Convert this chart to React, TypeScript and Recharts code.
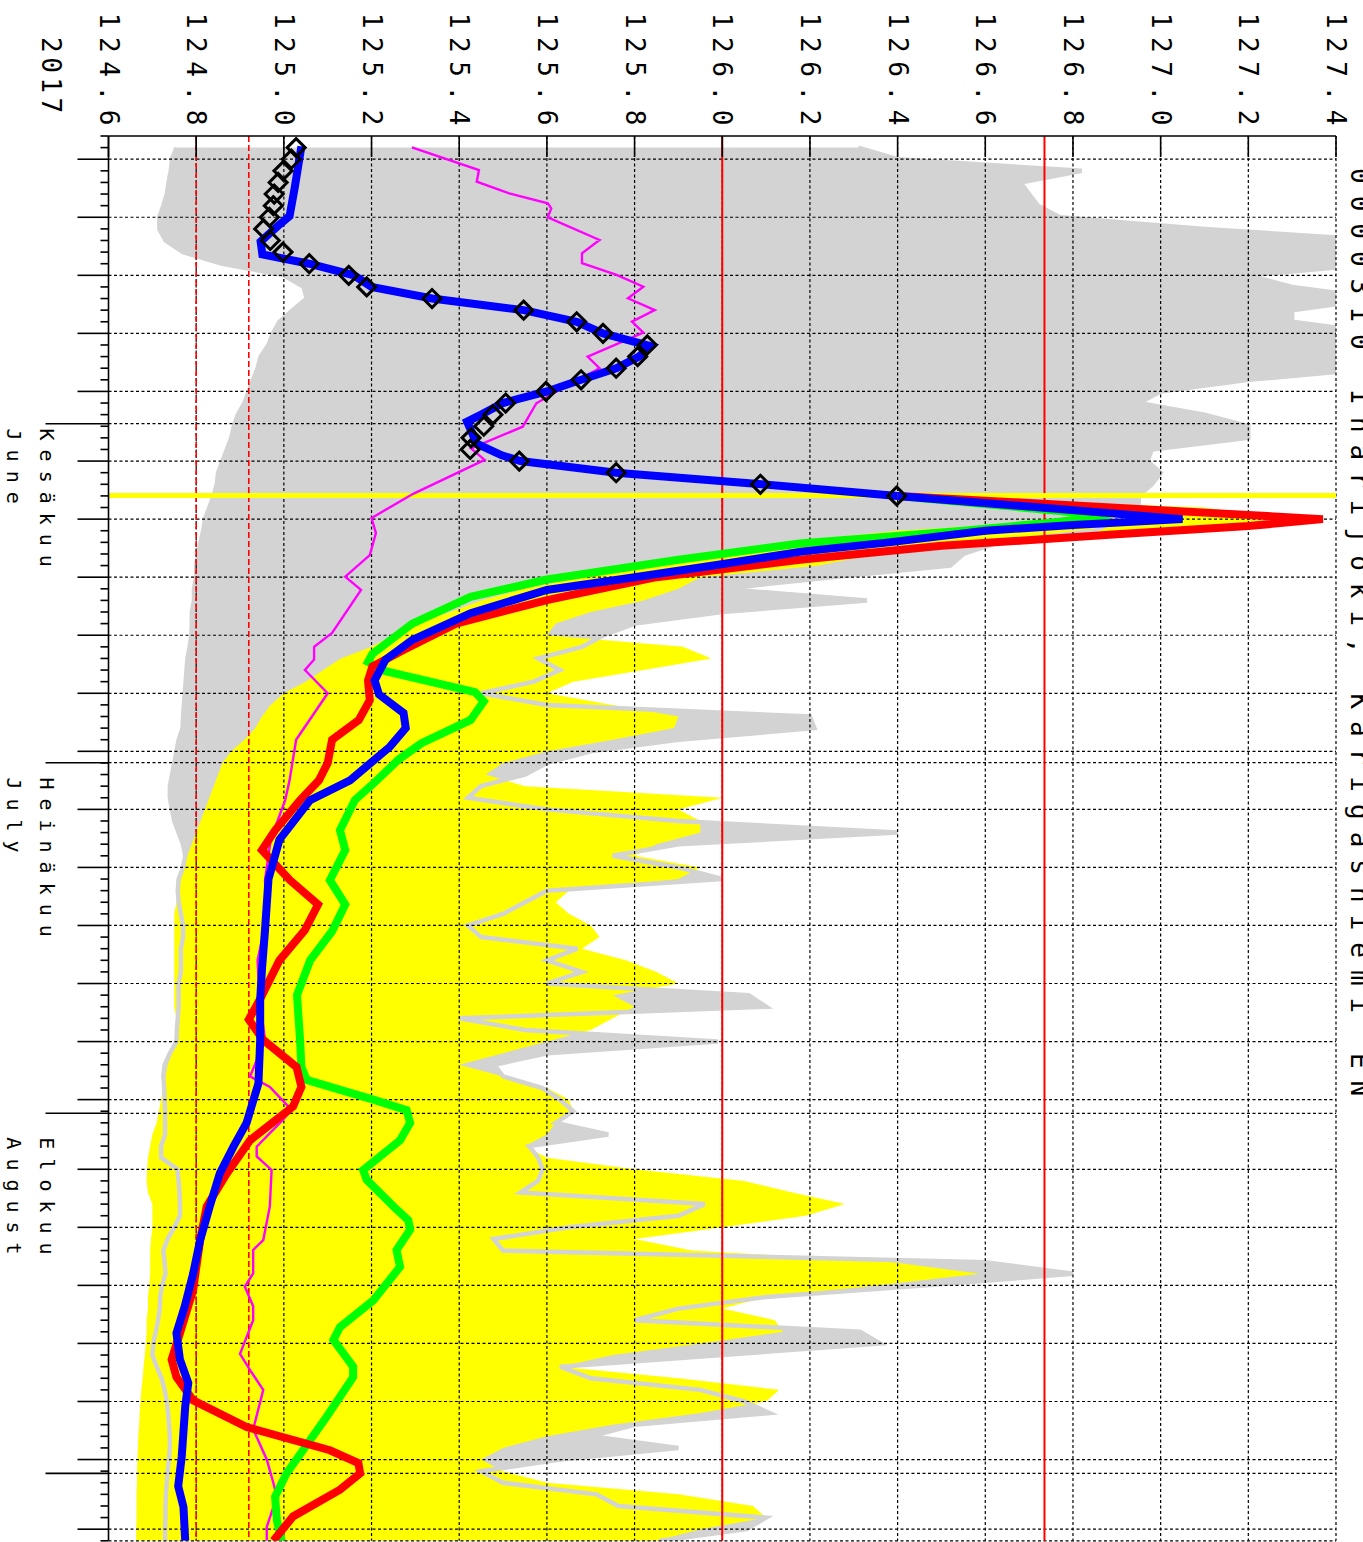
import React from "react";
import { ComposedChart, Area, Line, XAxis, YAxis, ReferenceLine } from "recharts";

// ---------- layout (unrotated chart, later turned 90deg clockwise) ----------
const CHART_W = 1542;
const CHART_H = 1363;
const PLOT_LEFT = 136;
const PLOT_TOP = 27;
const PLOT_BOTTOM = 1254.5;

// ---------- axes (time unit: days since 8 May 2017 00:00) ----------
const DAY_DOMAIN = [0, 121];
const VALUE_DOMAIN = [124.6, 127.4];
const VALUE_TICKS = [124.6, 124.8, 125.0, 125.2, 125.4, 125.6, 125.8, 126.0, 126.2, 126.4, 126.6, 126.8, 127.0, 127.2, 127.4];
const DAY_TICKS = Array.from({ length: 122 }, (_, i) => i);
const FIVE_DAY_TICKS = [2, 7, 12, 17, 22, 28, 33, 38, 43, 48, 53, 58, 63, 68, 73, 78, 83, 89, 94, 99, 104, 109, 114, 120];
const MONTH_TICKS = [24.78, 53.98, 84.18, 115.19];
const MONTH_LABEL_DAYS = [25.2, 55.25, 86.25];
const MONTH_LABELS_FI = ["Kesäkuu", "Heinäkuu", "Elokuu"];
const MONTH_LABELS_EN = ["June", "July", "August"];
const YEAR_LABEL = "2017";
const TITLE = "0000310 Inarijoki, Karigasniemi EN";
const FORECAST_START = 30.97;
const LIMITS_SOLID = [126.0, 126.735];
const LIMITS_DASHED = [124.8, 124.92];

// ---------- observations ----------
const OBS_DAYS = [1, 2, 3, 4, 5, 6, 7, 8, 9, 10, 11, 12, 13, 14, 15, 16, 17, 18, 19, 20, 21, 22, 23, 24, 25, 26, 27, 28, 29, 30, 31];
const OBS_VALUES = [125.028, 125.017, 124.998, 124.987, 124.978, 124.976, 124.967, 124.954, 124.969, 124.998, 125.058, 125.148, 125.189, 125.338, 125.547, 125.668, 125.728, 125.829, 125.807, 125.758, 125.678, 125.598, 125.506, 125.477, 125.456, 125.427, 125.425, 125.537, 125.758, 126.087, 126.398];

const BLUE_OBS_DAYS = [0.9, 4.4, 6.9, 7.8, 9.1, 10.2, 11, 12, 13, 14, 15, 16, 17, 18.1, 19, 20, 21, 22, 23, 24, 24.6, 26.5, 27.5, 28, 29, 30, 31];
const BLUE_OBS_VALUES = [125.04, 125.025, 125.013, 124.985, 124.947, 124.951, 125.058, 125.16, 125.2, 125.338, 125.547, 125.668, 125.728, 125.837, 125.81, 125.758, 125.678, 125.6, 125.5, 125.45, 125.418, 125.44, 125.497, 125.54, 125.758, 126.09, 126.4];

// ---------- forecasts ----------
const BLUE_DAYS = [31, 33, 33.5, 34, 35, 35.8, 37, 38, 39.1, 41.1, 43.4, 45.1, 46.9, 48.1, 49.7, 51.0, 52.6, 55.5, 57.2, 60.6, 64, 68.4, 71.8, 74.4, 77.9, 81.6, 85.0, 87.05, 89.35, 92.2, 95.1, 98.0, 100.8, 103.1, 105.4, 107.4, 109.45, 113.75, 116.3, 118.1, 121];
const BLUE_VALUES = [126.4, 127.05, 126.8, 126.6, 126.38, 126.18, 125.98, 125.8, 125.6, 125.426, 125.293, 125.232, 125.207, 125.217, 125.273, 125.278, 125.242, 125.151, 125.06, 124.99, 124.965, 124.957, 124.95, 124.946, 124.946, 124.942, 124.915, 124.885, 124.854, 124.831, 124.809, 124.793, 124.774, 124.755, 124.763, 124.782, 124.775, 124.767, 124.759, 124.771, 124.775];

const RED_DAYS = [31, 33, 33.6, 34.3, 35.3, 36.5, 38, 39.97, 41.97, 44.27, 45.7, 46.9, 48.6, 50.3, 52.0, 54.0, 55.5, 57.2, 59.8, 61.5, 64.1, 66.2, 68.4, 71.0, 74.4, 76.1, 77.86, 80.2, 81.9, 83.6, 86.5, 89.35, 92.2, 95.1, 99.4, 103.1, 105.4, 106.9, 108.9, 111.2, 113.2, 114.3, 115.2, 116.6, 118.9, 121];
const RED_VALUES = [126.4, 127.37, 127.2, 126.9, 126.5, 126.177, 125.85, 125.6, 125.395, 125.273, 125.202, 125.192, 125.196, 125.171, 125.11, 125.1, 125.08, 125.037, 124.98, 124.95, 125.014, 125.078, 125.048, 124.99, 124.945, 124.92, 124.953, 125.029, 125.04, 125.021, 124.923, 124.87, 124.824, 124.809, 124.793, 124.763, 124.744, 124.755, 124.793, 124.915, 125.105, 125.17, 125.174, 125.128, 125.021, 124.976];

const GREEN_DAYS = [31, 32.7, 33.3, 34, 35.1, 36.5, 38.2, 39.7, 42.0, 44.6, 45.3, 46.1, 47.9, 48.7, 50.3, 52.3, 53.7, 55.5, 57.2, 59.8, 61.5, 64.1, 66.2, 68.5, 71, 74, 77.86, 80.2, 81.3, 83.0, 83.9, 85.0, 86.5, 89.06, 89.9, 92.2, 93.4, 94.2, 95.95, 97.4, 100.3, 102.6, 103.7, 106.0, 106.9, 110.3, 115.2, 117.2, 119.2, 121];
const GREEN_VALUES = [126.4, 126.884, 126.75, 126.55, 126.177, 125.9, 125.6, 125.426, 125.293, 125.202, 125.192, 125.232, 125.436, 125.456, 125.426, 125.314, 125.262, 125.212, 125.162, 125.128, 125.14, 125.105, 125.14, 125.11, 125.06, 125.03, 125.037, 125.04, 125.052, 125.204, 125.28, 125.288, 125.265, 125.181, 125.189, 125.25, 125.284, 125.288, 125.257, 125.265, 125.204, 125.128, 125.113, 125.158, 125.158, 125.098, 125.006, 124.98, 124.984, 124.995];

const MAGENTA_DAYS = [0.98, 2.93, 3.94, 4.94, 5.8, 6.23, 7.0, 8.96, 10.1, 10.96, 11.97, 12.98, 13.98, 14.99, 15.99, 16.94, 19.0, 20.0, 21.88, 23.02, 25.04, 26.9, 27.9, 30.8, 32.9, 34.2, 36.1, 37.96, 39.1, 42.8, 44.0, 45.1, 46.0, 48.0, 52.0, 55.5, 57.2, 60.6, 64.1, 67.5, 71.0, 74.4, 77.86, 81.0, 81.9, 83.9, 85.0, 87.05, 87.9, 89.06, 92.2, 95.1, 95.95, 97.96, 99.1, 100.8, 102.0, 104.9, 106.3, 108.0, 111.4, 114.0, 116.0, 117.2, 119.8, 121];
const MAGENTA_VALUES = [125.292, 125.445, 125.44, 125.514, 125.602, 125.61, 125.602, 125.72, 125.68, 125.68, 125.759, 125.82, 125.785, 125.846, 125.794, 125.82, 125.693, 125.72, 125.628, 125.576, 125.545, 125.427, 125.458, 125.296, 125.2, 125.21, 125.196, 125.14, 125.176, 125.11, 125.069, 125.069, 125.048, 125.1, 125.028, 125.013, 125.003, 124.97, 124.957, 124.96, 124.94, 124.945, 124.957, 124.923, 124.968, 125.018, 124.991, 124.938, 124.938, 124.972, 124.968, 124.953, 124.93, 124.93, 124.911, 124.93, 124.93, 124.9, 124.923, 124.953, 124.93, 124.961, 124.976, 124.984, 124.961, 124.961];

// ---------- historical range (grey) ----------
const GRAY_DAYS = Array.from({ length: 121 }, (_, i) => i + 1);
const GRAY_MIN = [
  124.755, 124.745, 124.742, 124.737, 124.733, 124.725, 124.716, 124.716, 124.73, 124.77,
  124.86, 125.0, 125.045, 125.052, 125.02, 124.99, 124.975, 124.965, 124.947, 124.94,
  124.93, 124.92, 124.91, 124.895, 124.886, 124.88, 124.87, 124.86, 124.85, 124.847,
  124.84, 124.83, 124.82, 124.816, 124.81, 124.805, 124.8, 124.8, 124.795, 124.795,
  124.79, 124.79, 124.789, 124.785, 124.78, 124.778, 124.776, 124.774, 124.772, 124.77,
  124.769, 124.76, 124.755, 124.75, 124.745, 124.74, 124.74, 124.745, 124.75, 124.76,
  124.77, 124.775, 124.77, 124.76, 124.758, 124.76, 124.765, 124.77, 124.77, 124.765,
  124.765, 124.765, 124.76, 124.76, 124.76, 124.758, 124.756, 124.755, 124.74, 124.728,
  124.725, 124.727, 124.728, 124.729, 124.729, 124.729, 124.72, 124.72, 124.757, 124.76,
  124.762, 124.763, 124.763, 124.75, 124.735, 124.725, 124.728, 124.73, 124.722, 124.718,
  124.717, 124.713, 124.708, 124.702, 124.7, 124.71, 124.721, 124.728, 124.733, 124.736,
  124.738, 124.74, 124.74, 124.738, 124.735, 124.733, 124.731, 124.73, 124.73, 124.729, 124.729,
];
const GRAY_MAX = [
  126.31, 126.40, 126.82, 126.68, 126.70, 126.72, 126.77, 127.1, 127.5, 127.5,
  127.5, 127.2, 127.3, 127.5, 127.3, 127.3, 127.5, 127.5, 127.5, 127.5,
  127.2, 127.0, 126.95, 127.1, 127.2, 127.2, 126.98, 126.97, 127.0, 126.98,
  126.95, 126.95, 126.9, 126.85, 126.63, 126.55, 126.52, 126.25, 126.0, 126.33,
  126.0, 125.8, 125.73, 125.68, 125.58, 125.63, 125.57, 125.45, 125.6, 126.2,
  126.21, 125.9, 125.7, 125.6, 125.55, 125.45, 125.42, 125.6, 125.9, 126.4,
  125.9, 125.75, 125.9, 126.0, 125.6, 125.55, 125.5, 125.42, 125.45, 125.67,
  125.6, 125.68, 125.6, 126.06, 126.1, 125.4, 125.55, 125.99, 125.6, 125.48,
  125.5, 125.59, 125.63, 125.66, 125.62, 125.74, 125.56, 125.58, 125.59, 125.58,
  125.54, 125.96, 125.9, 125.65, 125.478, 125.5, 126.6, 126.8, 126.466, 126.1,
  125.9, 125.8, 126.314, 126.36, 126.0, 125.63, 125.7, 125.95, 126.05, 126.108,
  125.8, 125.7, 125.9, 125.63, 125.45, 125.5, 125.713, 125.763, 126.1, 126.055, 125.857,
];

// ---------- forecast range (yellow) ----------
const YELLOW_DAYS = Array.from({ length: 91 }, (_, i) => i + 31);
const YELLOW_MIN = [
  126.4, 126.8, 126.86, 126.4, 126.15, 125.98, 125.82, 125.68, 125.55, 125.45,
  125.38, 125.30, 125.25, 125.20, 125.13, 125.09, 125.05, 125.0, 124.97, 124.95,
  124.935, 124.91, 124.88, 124.86, 124.85, 124.84, 124.83, 124.82, 124.81, 124.80,
  124.79, 124.78, 124.77, 124.765, 124.76, 124.755, 124.75, 124.75, 124.75, 124.75,
  124.75, 124.75, 124.75, 124.75, 124.75, 124.755, 124.755, 124.755, 124.745, 124.735,
  124.73, 124.725, 124.72, 124.715, 124.71, 124.70, 124.695, 124.69, 124.688, 124.687,
  124.69, 124.70, 124.70, 124.70, 124.697, 124.695, 124.695, 124.695, 124.693, 124.69,
  124.69, 124.687, 124.687, 124.685, 124.683, 124.68, 124.678, 124.675, 124.673, 124.671,
  124.67, 124.668, 124.667, 124.666, 124.665, 124.665, 124.664, 124.664, 124.664, 124.663, 124.663,
];
const YELLOW_MAX = [
  126.4, 127.1, 127.28, 126.95, 126.55, 126.35, 126.22, 125.95, 125.9, 125.82,
  125.7, 125.62, 125.6, 125.91, 125.975, 125.82, 125.66, 125.6, 125.75, 125.9,
  125.89, 125.75, 125.6, 125.5, 125.46, 125.55, 126.0, 125.9, 125.95, 125.95,
  125.85, 125.8, 125.95, 125.9, 125.65, 125.62, 125.65, 125.7, 125.72, 125.68,
  125.78, 125.85, 125.9, 125.75, 125.8, 125.75, 125.7, 125.6, 125.5, 125.4,
  125.5, 125.6, 125.65, 125.66, 125.62, 125.6, 125.55, 125.6, 125.8, 126.05,
  126.16, 126.28, 126.19, 126.0, 125.8, 125.93, 126.39, 126.587, 126.35, 126.1,
  126.0, 126.12, 126.139, 125.95, 125.75, 125.63, 125.9, 126.13, 126.1, 125.95,
  125.75, 125.6, 125.5, 125.45, 125.5, 125.6, 125.9, 126.07, 126.1, 125.95, 125.85,
];

// ---------- table builders ----------
const pts = (days: number[], vals: number[]) => days.map((d, i) => ({ d, v: vals[i] }));
const band = (days: number[], lo: number[], hi: number[]) => days.map((d, i) => ({ d, range: [lo[i], hi[i]], lo: lo[i], hi: hi[i] }));

const obsData = pts(OBS_DAYS, OBS_VALUES);
const blueObsData = pts(BLUE_OBS_DAYS, BLUE_OBS_VALUES);
const blueData = pts(BLUE_DAYS, BLUE_VALUES);
const redData = pts(RED_DAYS, RED_VALUES);
const greenData = pts(GREEN_DAYS, GREEN_VALUES);
const magentaData = pts(MAGENTA_DAYS, MAGENTA_VALUES);
const grayData = band(GRAY_DAYS, GRAY_MIN, GRAY_MAX);
const yellowData = band(YELLOW_DAYS, YELLOW_MIN, YELLOW_MAX);

const FONT = "'DejaVu Sans Mono', monospace";
const GRID_DASH = "3 2.5";

const ValueTick = (props: any) => {
  const { y, payload } = props;
  return (
    <g>
      <line x1={PLOT_LEFT} x2={PLOT_LEFT + 21} y1={y} y2={y} stroke="#000" strokeWidth={1.6} />
      <text x={134} y={y} textAnchor="end" dominantBaseline="central" fontFamily={FONT} fontSize={26} letterSpacing={8.6} fill="#000">
        {Number(payload.value).toFixed(1)}
      </text>
    </g>
  );
};

const TimeTick = (props: any) => {
  const { x, payload } = props;
  const d = payload.value;
  const li = MONTH_LABEL_DAYS.indexOf(d);
  if (li >= 0) {
    return (
      <g fontFamily={FONT} fontSize={20} letterSpacing={9} fill="#000">
        <text x={x} y={1316} dominantBaseline="central">{MONTH_LABELS_FI[li]}</text>
        <text x={x} y={1349} dominantBaseline="central">{MONTH_LABELS_EN[li]}</text>
      </g>
    );
  }
  const mi = MONTH_TICKS.indexOf(d);
  const len = mi >= 0 ? 63 : FIVE_DAY_TICKS.includes(d) ? 31 : 8;
  return <line x1={x} x2={x} y1={PLOT_BOTTOM} y2={PLOT_BOTTOM + len} stroke="#000" strokeWidth={1.6} />;
};

const diamond = (props: any) => {
  const { cx, cy, index } = props;
  if (cx == null || cy == null) return <g key={index} />;
  const r = 9;
  return (
    <path key={index} d={`M${cx},${cy - r}L${cx + r},${cy}L${cx},${cy + r}L${cx - r},${cy}Z`} fill="none" stroke="#000" strokeWidth={3} />
  );
};

const ALL_TIME_TICKS = [...DAY_TICKS, ...MONTH_TICKS, ...MONTH_LABEL_DAYS].sort((a, b) => a - b);
const GRID_TIMES = [...FIVE_DAY_TICKS, ...MONTH_TICKS, 121];

export default function App() {
  return (
    <div style={{ position: "absolute", left: 0, top: 0, width: 1363, height: 1542, overflow: "hidden", background: "#fff" }}>
      <div
        style={{
          position: "absolute",
          left: 0,
          top: 0,
          width: CHART_W,
          height: CHART_H,
          transformOrigin: "0 0",
          transform: "translate(1363px, 0px) rotate(90deg)",
        }}
      >
        <ComposedChart width={CHART_W} height={CHART_H} margin={{ top: PLOT_TOP, right: 1.2, left: 0, bottom: 0 }}>
          <XAxis
            type="number"
            dataKey="d"
            domain={DAY_DOMAIN}
            ticks={ALL_TIME_TICKS}
            interval={0}
            allowDataOverflow
            height={CHART_H - PLOT_BOTTOM}
            tickLine={false}
            tick={TimeTick}
            axisLine={{ stroke: "#000", strokeWidth: 1.6 }}
          />
          <YAxis
            type="number"
            domain={VALUE_DOMAIN}
            ticks={VALUE_TICKS}
            interval={0}
            allowDataOverflow
            width={PLOT_LEFT}
            tickLine={false}
            tick={ValueTick}
            axisLine={{ stroke: "#000", strokeWidth: 1.6 }}
          />
          <Area data={grayData} dataKey="range" type="linear" fill="#d3d3d3" fillOpacity={1} stroke="none" isAnimationActive={false} activeDot={false} />
          <Area data={yellowData} dataKey="range" type="linear" fill="#ffff00" fillOpacity={1} stroke="none" isAnimationActive={false} activeDot={false} />
          <Line data={grayData} dataKey="lo" type="linear" stroke="#d3d3d3" strokeWidth={4.5} dot={false} activeDot={false} isAnimationActive={false} />
          <Line data={grayData} dataKey="hi" type="linear" stroke="#d3d3d3" strokeWidth={4.5} dot={false} activeDot={false} isAnimationActive={false} />
          {VALUE_TICKS.slice(1).map((v) => (
            <ReferenceLine key={"gv" + v} y={v} stroke="#000" strokeWidth={1.2} strokeDasharray={GRID_DASH} />
          ))}
          {GRID_TIMES.map((d) => (
            <ReferenceLine key={"gt" + d} x={d} stroke="#000" strokeWidth={1.2} strokeDasharray={GRID_DASH} />
          ))}
          {LIMITS_SOLID.map((v) => (
            <ReferenceLine key={"ls" + v} y={v} stroke="#ff0000" strokeWidth={2} />
          ))}
          {LIMITS_DASHED.map((v) => (
            <ReferenceLine key={"ld" + v} y={v} stroke="#ff0000" strokeWidth={1.6} strokeDasharray="6 3" />
          ))}
          <ReferenceLine x={FORECAST_START} stroke="#ffff00" strokeWidth={5} />
          <Line data={magentaData} dataKey="v" type="linear" stroke="#ff00ff" strokeWidth={2.4} dot={false} activeDot={false} isAnimationActive={false} />
          <Line data={greenData} dataKey="v" type="linear" stroke="#00ff00" strokeWidth={8} dot={false} activeDot={false} isAnimationActive={false} />
          <Line data={redData} dataKey="v" type="linear" stroke="#ff0000" strokeWidth={8} dot={false} activeDot={false} isAnimationActive={false} />
          <Line data={blueData} dataKey="v" type="linear" stroke="#0000ff" strokeWidth={8} dot={false} activeDot={false} isAnimationActive={false} />
          <Line data={blueObsData} dataKey="v" type="linear" stroke="#0000ff" strokeWidth={8} dot={false} activeDot={false} isAnimationActive={false} />
          <Line data={obsData} dataKey="v" type="linear" stroke="none" dot={diamond} activeDot={false} isAnimationActive={false} />
        </ComposedChart>
        <svg width={CHART_W} height={CHART_H} style={{ position: "absolute", left: 0, top: 0, pointerEvents: "none" }}>
          <text x={168} y={12} fontFamily={FONT} fontSize={26} letterSpacing={12} fill="#000">{TITLE}</text>
          <text x={37} y={1312} dominantBaseline="central" fontFamily={FONT} fontSize={26} letterSpacing={4.5} fill="#000">{YEAR_LABEL}</text>
        </svg>
      </div>
    </div>
  );
}
